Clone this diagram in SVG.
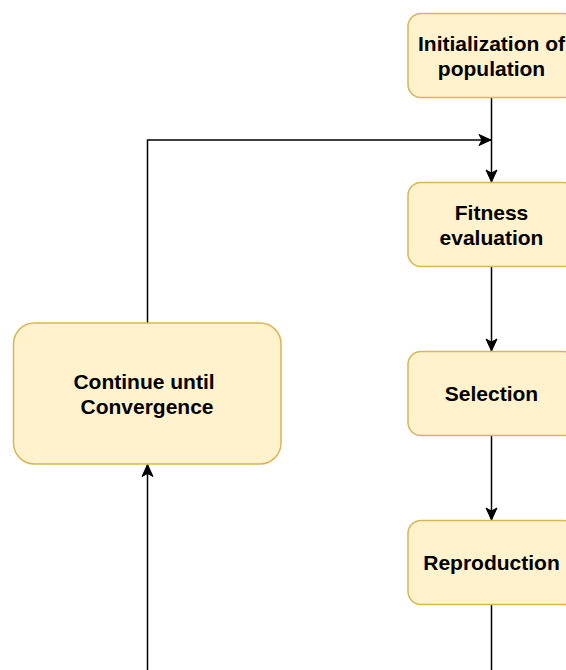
<svg xmlns="http://www.w3.org/2000/svg" width="566" height="670" viewBox="0 0 566 670">
  <style>
    .box { fill: #fff2cc; stroke: #d6b656; stroke-width: 1.5; }
    .label { font-family: "Liberation Sans", Arial, sans-serif; font-weight: bold; font-size: 21px; fill: #000000; text-anchor: middle; }
    .edge { fill: none; stroke: #000000; stroke-width: 1.5; marker-end: url(#arrow); }
  </style>
  <defs>
    <marker id="arrow" viewBox="-13 -7 14 14" refX="0" refY="0" markerWidth="14" markerHeight="14" markerUnits="userSpaceOnUse" orient="auto">
      <path d="M0,0 L-12,-5.5 L-9,0 L-12,5.5 Z" fill="#000000" stroke="#000000" stroke-width="1"/>
    </marker>
  </defs>
  <rect x="0" y="0" width="566" height="670" fill="#ffffff"/>

  <g id="connectors">
    <path class="edge" d="M491.5,97.5 L491.5,182"/>
    <path class="edge" d="M491.5,266.5 L491.5,351"/>
    <path class="edge" d="M491.5,435.5 L491.5,520"/>
    <path class="edge" d="M491.5,604.5 L491.5,680" style="marker-end:none"/>
    <path class="edge" d="M147.5,680 L147.5,464.5"/>
    <path class="edge" d="M147.5,323 L147.5,140 L491,140"/>
  </g>

  <g id="init">
    <rect class="box" x="408" y="13.5" width="168" height="84" rx="13" ry="13"/>
    <text class="label" x="491.5" y="51">Initialization of</text>
    <text class="label" x="491.5" y="76">population</text>
  </g>
  <g id="fitness">
    <rect class="box" x="408" y="182.5" width="168" height="84" rx="13" ry="13"/>
    <text class="label" x="491.5" y="219.5">Fitness</text>
    <text class="label" x="491.5" y="244.5">evaluation</text>
  </g>
  <g id="selection">
    <rect class="box" x="408" y="351.5" width="168" height="84" rx="13" ry="13"/>
    <text class="label" x="491.5" y="401">Selection</text>
  </g>
  <g id="reproduction">
    <rect class="box" x="408" y="520.5" width="168" height="84" rx="13" ry="13"/>
    <text class="label" x="491.5" y="570">Reproduction</text>
  </g>
  <g id="convergence">
    <rect class="box" x="13.5" y="323" width="267.5" height="141" rx="21" ry="21"/>
    <text class="label" x="144" y="388.5">Continue until</text>
    <text class="label" x="147" y="413.5">Convergence</text>
  </g>
</svg>
